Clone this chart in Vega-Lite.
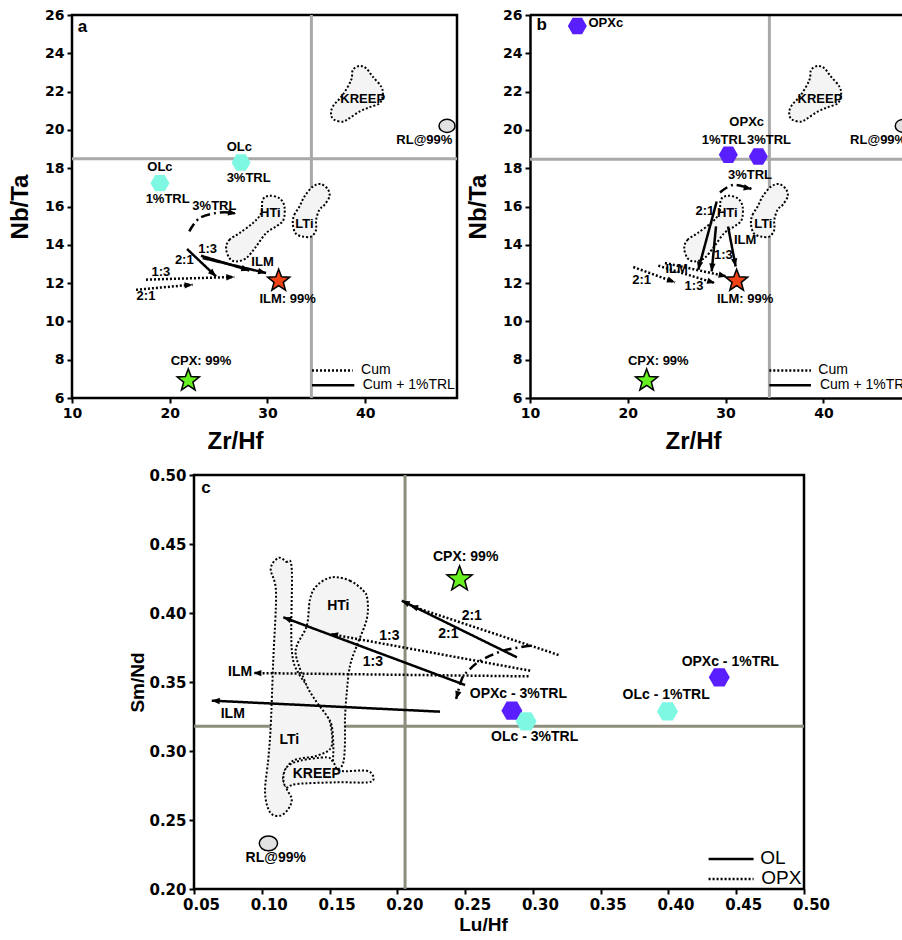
{
"$schema": "https://vega.github.io/schema/vega-lite/v6.json",
"padding": {"left": 7, "top": 6, "right": 0, "bottom": 0},
"background": "white",
"config": {
  "view": {"stroke": "black", "strokeWidth": 2.5},
  "axis": {"domain": false, "grid": false, "ticks": true, "tickColor": "black", "tickWidth": 2, "tickSize": 5, "labelColor": "black", "labelFont": "DejaVu Sans", "labelFontWeight": "bold", "titleColor": "black", "titleFont": "Liberation Sans", "titleFontWeight": "bold", "labelPadding": 3, "labelOverlap": false, "labelFlush": false}
},
"datasets": {
  "polyAB": [
    {"s":"K","i":0,"x":36.52,"y":20.78},{"s":"K","i":1,"x":36.69,"y":21.22},{"s":"K","i":2,"x":37.71,"y":21.83},{"s":"K","i":3,"x":38.57,"y":22.61},{"s":"K","i":4,"x":38.74,"y":23.13},{"s":"K","i":5,"x":39.42,"y":23.34},{"s":"K","i":6,"x":40.10,"y":23.22},{"s":"K","i":7,"x":40.78,"y":22.78},{"s":"K","i":8,"x":41.64,"y":22.26},{"s":"K","i":9,"x":41.81,"y":21.83},{"s":"K","i":10,"x":41.47,"y":21.39},{"s":"K","i":11,"x":40.44,"y":21.18},{"s":"K","i":12,"x":39.42,"y":20.96},{"s":"K","i":13,"x":38.40,"y":20.61},{"s":"K","i":14,"x":37.71,"y":20.43},{"s":"K","i":15,"x":36.86,"y":20.52},
    {"s":"H","i":0,"x":25.77,"y":13.83},{"s":"H","i":1,"x":26.11,"y":14.26},{"s":"H","i":2,"x":27.13,"y":14.61},{"s":"H","i":3,"x":28.50,"y":15.13},{"s":"H","i":4,"x":29.35,"y":15.65},{"s":"H","i":5,"x":29.52,"y":16.35},{"s":"H","i":6,"x":30.20,"y":16.56},{"s":"H","i":7,"x":31.23,"y":16.43},{"s":"H","i":8,"x":31.74,"y":16.00},{"s":"H","i":9,"x":31.64,"y":15.30},{"s":"H","i":10,"x":30.89,"y":14.96},{"s":"H","i":11,"x":29.86,"y":14.61},{"s":"H","i":12,"x":28.84,"y":13.91},{"s":"H","i":13,"x":27.82,"y":13.30},{"s":"H","i":14,"x":26.79,"y":13.13},{"s":"H","i":15,"x":26.11,"y":13.30},
    {"s":"L","i":0,"x":32.59,"y":15.13},{"s":"L","i":1,"x":32.76,"y":15.57},{"s":"L","i":2,"x":33.28,"y":16.0},{"s":"L","i":3,"x":33.79,"y":16.52},{"s":"L","i":4,"x":34.64,"y":17.04},{"s":"L","i":5,"x":35.49,"y":17.17},{"s":"L","i":6,"x":36.18,"y":16.90},{"s":"L","i":7,"x":36.35,"y":16.52},{"s":"L","i":8,"x":35.84,"y":16.09},{"s":"L","i":9,"x":35.32,"y":15.83},{"s":"L","i":10,"x":34.98,"y":15.30},{"s":"L","i":11,"x":34.98,"y":14.78},{"s":"L","i":12,"x":34.47,"y":14.43},{"s":"L","i":13,"x":33.62,"y":14.43},{"s":"L","i":14,"x":32.87,"y":14.61}
  ],
  "polyC": [
    {"s":"L","i":0,"x":0.1122,"y":0.4399},{"s":"L","i":1,"x":0.1179,"y":0.4372},{"s":"L","i":2,"x":0.1221,"y":0.4319},{"s":"L","i":3,"x":0.1221,"y":0.3739},{"s":"L","i":4,"x":0.1282,"y":0.3546},{"s":"L","i":5,"x":0.1406,"y":0.3401},{"s":"L","i":6,"x":0.1491,"y":0.3256},{"s":"L","i":7,"x":0.1516,"y":0.3038},{"s":"L","i":8,"x":0.1406,"y":0.2966},{"s":"L","i":9,"x":0.1233,"y":0.2930},{"s":"L","i":10,"x":0.1159,"y":0.2821},{"s":"L","i":11,"x":0.1184,"y":0.2725},{"s":"L","i":12,"x":0.1221,"y":0.2652},{"s":"L","i":13,"x":0.1196,"y":0.2580},{"s":"L","i":14,"x":0.1135,"y":0.2531},{"s":"L","i":15,"x":0.1061,"y":0.2556},{"s":"L","i":16,"x":0.1024,"y":0.2701},{"s":"L","i":17,"x":0.1048,"y":0.2942},{"s":"L","i":18,"x":0.1066,"y":0.3183},{"s":"L","i":19,"x":0.1085,"y":0.3667},{"s":"L","i":20,"x":0.1105,"y":0.4150},{"s":"L","i":21,"x":0.1066,"y":0.4319},
    {"s":"H","i":0,"x":0.1516,"y":0.4259},{"s":"H","i":1,"x":0.1651,"y":0.4234},{"s":"H","i":2,"x":0.1749,"y":0.4162},{"s":"H","i":3,"x":0.1779,"y":0.4101},{"s":"H","i":4,"x":0.1775,"y":0.3957},{"s":"H","i":5,"x":0.1701,"y":0.3763},{"s":"H","i":6,"x":0.1651,"y":0.3618},{"s":"H","i":7,"x":0.1627,"y":0.3425},{"s":"H","i":8,"x":0.1614,"y":0.3232},{"s":"H","i":9,"x":0.1614,"y":0.3063},{"s":"H","i":10,"x":0.1602,"y":0.2918},{"s":"H","i":11,"x":0.1565,"y":0.2870},{"s":"H","i":12,"x":0.1528,"y":0.2906},{"s":"H","i":13,"x":0.1528,"y":0.3038},{"s":"H","i":14,"x":0.1516,"y":0.3183},{"s":"H","i":15,"x":0.1479,"y":0.3256},{"s":"H","i":16,"x":0.1406,"y":0.3353},{"s":"H","i":17,"x":0.1332,"y":0.3473},{"s":"H","i":18,"x":0.1258,"y":0.3667},{"s":"H","i":19,"x":0.1258,"y":0.3763},{"s":"H","i":20,"x":0.1332,"y":0.3908},{"s":"H","i":21,"x":0.1356,"y":0.4101},{"s":"H","i":22,"x":0.1406,"y":0.4198},
    {"s":"K","i":0,"x":0.1159,"y":0.2797},{"s":"K","i":1,"x":0.1184,"y":0.2882},{"s":"K","i":2,"x":0.1282,"y":0.2930},{"s":"K","i":3,"x":0.1479,"y":0.2954},{"s":"K","i":4,"x":0.1528,"y":0.2918},{"s":"K","i":5,"x":0.1578,"y":0.2857},{"s":"K","i":6,"x":0.1775,"y":0.2857},{"s":"K","i":7,"x":0.1823,"y":0.2809},{"s":"K","i":8,"x":0.1786,"y":0.2773},{"s":"K","i":9,"x":0.1553,"y":0.2773},{"s":"K","i":10,"x":0.1258,"y":0.2761},{"s":"K","i":11,"x":0.1184,"y":0.2737}
  ],
  "arrA": [
    {"id":"a1","st":"dot","i":0,"x":16.55,"y":11.65},{"id":"a1","st":"dot","i":1,"x":22.34,"y":11.92},
    {"id":"a2","st":"dot","i":0,"x":17.57,"y":12.18},{"id":"a2","st":"dot","i":1,"x":26.61,"y":12.32},
    {"id":"a3","st":"solid","i":0,"x":21.77,"y":13.78},{"id":"a3","st":"solid","i":1,"x":24.74,"y":12.35},
    {"id":"a4","st":"solid","i":0,"x":23.2,"y":13.43},{"id":"a4","st":"solid","i":1,"x":28.15,"y":12.66},
    {"id":"a5","st":"solid","i":0,"x":23.37,"y":13.31},{"id":"a5","st":"solid","i":1,"x":29.86,"y":12.53},
    {"id":"a6","st":"dashdot","i":0,"x":22.0,"y":14.70},{"id":"a6","st":"dashdot","i":1,"x":23.03,"y":15.39},{"id":"a6","st":"dashdot","i":2,"x":24.74,"y":15.66},{"id":"a6","st":"dashdot","i":3,"x":26.1,"y":15.69},{"id":"a6","st":"dashdot","i":4,"x":26.79,"y":15.62},
    {"id":"L1","st":"dot","i":0,"x":34.56,"y":7.44},{"id":"L1","st":"dot","i":1,"x":38.72,"y":7.44},
    {"id":"L2","st":"solid","i":0,"x":34.56,"y":6.66},{"id":"L2","st":"solid","i":1,"x":38.89,"y":6.66}
  ],
  "headA": [
    {"x":22.34,"y":11.92,"a":-5},{"x":26.61,"y":12.32,"a":-2},{"x":24.74,"y":12.35,"a":43},{"x":28.15,"y":12.66,"a":17},{"x":29.86,"y":12.53,"a":13},{"x":26.79,"y":15.62,"a":11}
  ],
  "arrB": [
    {"id":"b1","st":"solid","i":0,"x":29.09,"y":16.26},{"id":"b1","st":"solid","i":1,"x":27.21,"y":12.70},
    {"id":"b2","st":"solid","i":0,"x":29.02,"y":14.96},{"id":"b2","st":"solid","i":1,"x":28.58,"y":12.61},
    {"id":"b3","st":"solid","i":0,"x":30.25,"y":14.96},{"id":"b3","st":"solid","i":1,"x":31.03,"y":12.87},
    {"id":"b4","st":"dot","i":0,"x":20.56,"y":12.84},{"id":"b4","st":"dot","i":1,"x":24.83,"y":12.04},
    {"id":"b5","st":"dot","i":0,"x":23.12,"y":12.91},{"id":"b5","st":"dot","i":1,"x":28.92,"y":12.0},
    {"id":"b6","st":"dot","i":0,"x":23.8,"y":13.05},{"id":"b6","st":"dot","i":1,"x":30.11,"y":12.35},
    {"id":"b7","st":"dashdot","i":0,"x":29.43,"y":16.73},{"id":"b7","st":"dashdot","i":1,"x":30.79,"y":17.13},{"id":"b7","st":"dashdot","i":2,"x":32.67,"y":16.91},
    {"id":"L1","st":"dot","i":0,"x":34.47,"y":7.44},{"id":"L1","st":"dot","i":1,"x":38.73,"y":7.44},
    {"id":"L2","st":"solid","i":0,"x":34.47,"y":6.66},{"id":"L2","st":"solid","i":1,"x":38.73,"y":6.66}
  ],
  "headB": [
    {"x":27.21,"y":12.70,"a":103},{"x":28.58,"y":12.61,"a":95},{"x":31.03,"y":12.87,"a":79},{"x":24.83,"y":12.04,"a":20},{"x":28.92,"y":12.0,"a":17},{"x":30.11,"y":12.35,"a":12},{"x":32.67,"y":16.91,"a":13}
  ],
  "arrC": [
    {"id":"c1","st":"solid","i":0,"x":0.2882,"y":0.3679},{"id":"c1","st":"solid","i":1,"x":0.2033,"y":0.4089},
    {"id":"c2","st":"dot","i":0,"x":0.3189,"y":0.3696},{"id":"c2","st":"dot","i":1,"x":0.2094,"y":0.4053},
    {"id":"c3","st":"dot","i":0,"x":0.298,"y":0.3582},{"id":"c3","st":"dot","i":1,"x":0.1504,"y":0.3848},
    {"id":"c4","st":"solid","i":0,"x":0.25,"y":0.3478},{"id":"c4","st":"solid","i":1,"x":0.1159,"y":0.3969},
    {"id":"c5","st":"dot","i":0,"x":0.2968,"y":0.3541},{"id":"c5","st":"dot","i":1,"x":0.0938,"y":0.3565},
    {"id":"c6","st":"solid","i":0,"x":0.2315,"y":0.3285},{"id":"c6","st":"solid","i":1,"x":0.0631,"y":0.3365},
    {"id":"c7","st":"dashdot","i":0,"x":0.298,"y":0.3763},{"id":"c7","st":"dashdot","i":1,"x":0.2783,"y":0.3727},{"id":"c7","st":"dashdot","i":2,"x":0.2611,"y":0.3654},{"id":"c7","st":"dashdot","i":3,"x":0.2524,"y":0.3582},{"id":"c7","st":"dashdot","i":4,"x":0.2476,"y":0.3522},{"id":"c7","st":"dashdot","i":5,"x":0.2434,"y":0.3377},
    {"id":"L1","st":"solid","i":0,"x":0.4296,"y":0.2217},{"id":"L1","st":"solid","i":1,"x":0.4628,"y":0.2217},
    {"id":"L2","st":"dot","i":0,"x":0.4296,"y":0.2072},{"id":"L2","st":"dot","i":1,"x":0.4628,"y":0.2072}
  ],
  "headC": [
    {"x":0.2033,"y":0.4089,"a":-154},{"x":0.2094,"y":0.4053,"a":-162},{"x":0.1504,"y":0.3848,"a":-170},{"x":0.1159,"y":0.3969,"a":-160},{"x":0.0938,"y":0.3565,"a":-179},{"x":0.0631,"y":0.3365,"a":-177},{"x":0.2434,"y":0.3377,"a":106}
  ],
  "ptA": [
    {"k":"OLc","x":19.0,"y":17.22},{"k":"OLc","x":27.3,"y":18.3},{"k":"ILM","x":31.15,"y":12.12},{"k":"CPX","x":21.9,"y":6.91},{"k":"RL","x":48.38,"y":20.21}
  ],
  "ptB": [
    {"k":"OPXc","x":14.84,"y":25.43},{"k":"OPXc","x":30.28,"y":18.70},{"k":"OPXc","x":33.35,"y":18.61},{"k":"ILM","x":31.13,"y":12.12},{"k":"CPX","x":21.93,"y":6.91},{"k":"RL","x":48.17,"y":20.21}
  ],
  "ptC": [
    {"k":"CPX","x":0.2459,"y":0.4246},{"k":"OPXc","x":0.2845,"y":0.3292},{"k":"OLc","x":0.295,"y":0.3215},{"k":"OPXc","x":0.4375,"y":0.3534},{"k":"OLc","x":0.3993,"y":0.3287},{"k":"RL","x":0.1049,"y":0.2331}
  ],
  "txtA": [
    {"g":"c","t":"OLc","x":19.0,"y":18.06},{"g":"c","t":"1%TRL","x":19.79,"y":16.39},{"g":"c","t":"OLc","x":27.12,"y":19.13},{"g":"c","t":"3%TRL","x":28.08,"y":17.48},{"g":"c","t":"3%TRL","x":24.57,"y":16.04},{"g":"c","t":"HTi","x":30.3,"y":15.66},{"g":"c","t":"LTi","x":33.78,"y":15.1},{"g":"c","t":"KREEP","x":39.75,"y":21.62},{"g":"c","t":"RL@99%","x":46.06,"y":19.48},{"g":"c","t":"2:1","x":17.57,"y":11.31},{"g":"c","t":"1:3","x":19.1,"y":12.56},{"g":"c","t":"2:1","x":21.49,"y":13.22},{"g":"c","t":"1:3","x":23.88,"y":13.78},{"g":"c","t":"ILM","x":29.5,"y":13.08},{"g":"c","t":"ILM: 99%","x":32.07,"y":11.19},{"g":"c","t":"CPX: 99%","x":23.2,"y":7.91},
    {"g":"p","t":"a","x":11.08,"y":25.39},
    {"g":"lg","t":"Cum","x":39.58,"y":7.44},{"g":"lg","t":"Cum + 1%TRL","x":39.75,"y":6.66}
  ],
  "txtB": [
    {"g":"c","t":"OPXc","x":17.75,"y":25.57},{"g":"c","t":"OPXc","x":32.16,"y":20.43},{"g":"c","t":"1%TRL","x":29.82,"y":19.48},{"g":"c","t":"3%TRL","x":34.44,"y":19.48},{"g":"c","t":"3%TRL","x":32.5,"y":17.65},{"g":"c","t":"HTi","x":30.18,"y":15.66},{"g":"c","t":"LTi","x":33.86,"y":15.1},{"g":"c","t":"KREEP","x":39.65,"y":21.62},{"g":"c","t":"RL@99%","x":45.6,"y":19.48},{"g":"c","t":"2:1","x":27.89,"y":15.74},{"g":"c","t":"1:3","x":29.77,"y":13.48},{"g":"c","t":"ILM","x":32.0,"y":14.26},{"g":"c","t":"ILM","x":25.0,"y":12.73},{"g":"c","t":"2:1","x":21.42,"y":12.18},{"g":"c","t":"1:3","x":26.77,"y":11.83},{"g":"c","t":"ILM: 99%","x":32.0,"y":11.19},{"g":"c","t":"CPX: 99%","x":23.12,"y":7.91},
    {"g":"p","t":"b","x":11.2,"y":25.48},
    {"g":"lg","t":"Cum","x":39.48,"y":7.44},{"g":"lg","t":"Cum + 1%TRL","x":39.65,"y":6.66}
  ],
  "txtC": [
    {"g":"p","t":"c","x":0.0589,"y":0.4903},
    {"g":"c","t":"CPX: 99%","x":0.2504,"y":0.4408},{"g":"c","t":"HTi","x":0.1565,"y":0.4053},{"g":"c","t":"LTi","x":0.1203,"y":0.308},{"g":"c","t":"KREEP","x":0.1406,"y":0.2833},{"g":"c","t":"RL@99%","x":0.1103,"y":0.2225},{"g":"c","t":"2:1","x":0.2549,"y":0.398},{"g":"c","t":"2:1","x":0.2377,"y":0.3848},{"g":"c","t":"1:3","x":0.1941,"y":0.3831},{"g":"c","t":"1:3","x":0.1819,"y":0.3643},{"g":"c","t":"ILM","x":0.084,"y":0.357},{"g":"c","t":"ILM","x":0.0786,"y":0.3268},{"g":"c","t":"OPXc - 1%TRL","x":0.4456,"y":0.3647},{"g":"c","t":"OLc - 1%TRL","x":0.3983,"y":0.3406},{"g":"c","t":"OPXc - 3%TRL","x":0.2893,"y":0.3413},{"g":"c","t":"OLc - 3%TRL","x":0.3013,"y":0.3104},
    {"g":"lg","t":"OL","x":0.4677,"y":0.2222},{"g":"lg","t":"OPX","x":0.4685,"y":0.2077}
  ]
},
"bounds": "full",
"spacing": 11,
"vconcat": [
  {
    "bounds": "flush",
    "spacing": 73,
    "hconcat": [
      {
        "width": 385, "height": 383,
        "encoding": {
          "x": {"field": "x", "type": "quantitative", "scale": {"domain": [10, 49.4], "nice": false, "zero": false}, "axis": {"values": [10, 20, 30, 40], "title": "Zr/Hf", "titleFontSize": 24, "titleX": 163, "titlePadding": 9, "labelFontSize": 14}},
          "y": {"field": "y", "type": "quantitative", "scale": {"domain": [6, 26], "nice": false, "zero": false}, "axis": {"values": [6, 8, 10, 12, 14, 16, 18, 20, 22, 24, 26], "title": "Nb/Ta", "titleFontSize": 24, "titlePadding": 12, "labelFontSize": 14}}
        },
        "layer": [
          {"data": {"values": [{"x": 34.5, "y": 6, "y2": 26}]}, "mark": {"type": "rule", "color": "#a9a9a9", "strokeWidth": 3}, "encoding": {"y2": {"field": "y2"}}},
          {"data": {"values": [{"x": 10, "x2": 49.4, "y": 18.5}]}, "mark": {"type": "rule", "color": "#a9a9a9", "strokeWidth": 3}, "encoding": {"x2": {"field": "x2"}}},
          {"data": {"name": "polyAB"}, "mark": {"type": "line", "interpolate": "cardinal-closed", "fill": "#f4f4f4", "stroke": "black", "strokeWidth": 2, "strokeDash": [2, 2]}, "encoding": {"detail": {"field": "s"}, "order": {"field": "i", "type": "quantitative"}}},
          {"data": {"name": "arrA"}, "mark": {"type": "line", "color": "black", "strokeWidth": 2.5, "interpolate": "cardinal"}, "encoding": {"detail": {"field": "id"}, "order": {"field": "i", "type": "quantitative"}, "strokeDash": {"field": "st", "type": "nominal", "scale": {"domain": ["dot", "solid", "dashdot"], "range": [[2, 2], [1, 0], [9, 4, 2, 4]]}, "legend": null}}},
          {"data": {"name": "headA"}, "mark": {"type": "point", "filled": true, "color": "black", "opacity": 1, "size": 64, "shape": "M0,0L-2,-0.8L-2,0.8Z"}, "encoding": {"angle": {"field": "a", "type": "quantitative", "scale": null}}},
          {"data": {"name": "ptA"}, "transform": [{"filter": "datum.k=='OLc'||datum.k=='OPXc'"}], "mark": {"type": "point", "filled": true, "opacity": 1, "size": 361, "strokeWidth": 0},
           "encoding": {"shape": {"field": "k", "type": "nominal", "scale": {"domain": ["OLc", "OPXc", "ILM", "CPX", "RL"], "range": ["M-1,0L-0.5,-0.866L0.5,-0.866L1,0L0.5,0.866L-0.5,0.866Z", "M-1,0L-0.5,-0.866L0.5,-0.866L1,0L0.5,0.866L-0.5,0.866Z", "M0,-1L0.247,-0.34L0.951,-0.309L0.399,0.13L0.588,0.809L0,0.42L-0.588,0.809L-0.399,0.13L-0.951,-0.309L-0.247,-0.34Z", "M0,-1L0.247,-0.34L0.951,-0.309L0.399,0.13L0.588,0.809L0,0.42L-0.588,0.809L-0.399,0.13L-0.951,-0.309L-0.247,-0.34Z", "M-0.69,0A0.69,0.56 0 1,1 0.69,0A0.69,0.56 0 1,1 -0.69,0Z"]}, "legend": null},
                        "color": {"field": "k", "type": "nominal", "scale": {"domain": ["OLc", "OPXc", "ILM", "CPX", "RL"], "range": ["#7ef8e3", "#5a1fff", "#ee4316", "#66f020", "#e2e2e2"]}, "legend": null}}},
          {"data": {"name": "ptA"}, "transform": [{"filter": "datum.k!='OLc'&&datum.k!='OPXc'"}], "mark": {"type": "point", "filled": true, "opacity": 1, "size": 540, "stroke": "black", "strokeWidth": 1.5},
           "encoding": {"shape": {"field": "k", "type": "nominal", "scale": {"domain": ["OLc", "OPXc", "ILM", "CPX", "RL"], "range": ["M-1,0L-0.5,-0.866L0.5,-0.866L1,0L0.5,0.866L-0.5,0.866Z", "M-1,0L-0.5,-0.866L0.5,-0.866L1,0L0.5,0.866L-0.5,0.866Z", "M0,-1L0.247,-0.34L0.951,-0.309L0.399,0.13L0.588,0.809L0,0.42L-0.588,0.809L-0.399,0.13L-0.951,-0.309L-0.247,-0.34Z", "M0,-1L0.247,-0.34L0.951,-0.309L0.399,0.13L0.588,0.809L0,0.42L-0.588,0.809L-0.399,0.13L-0.951,-0.309L-0.247,-0.34Z", "M-0.69,0A0.69,0.56 0 1,1 0.69,0A0.69,0.56 0 1,1 -0.69,0Z"]}, "legend": null},
                        "color": {"field": "k", "type": "nominal", "scale": {"domain": ["OLc", "OPXc", "ILM", "CPX", "RL"], "range": ["#7ef8e3", "#5a1fff", "#ee4316", "#66f020", "#e2e2e2"]}, "legend": null}}},
          {"data": {"name": "txtA"}, "transform": [{"filter": "datum.g=='c'"}], "mark": {"type": "text", "font": "Liberation Sans", "fontWeight": "bold", "fontSize": 13, "baseline": "middle", "color": "black"}, "encoding": {"text": {"field": "t"}}},
          {"data": {"name": "txtA"}, "transform": [{"filter": "datum.g=='p'"}], "mark": {"type": "text", "font": "Liberation Sans", "fontWeight": "bold", "fontSize": 17, "baseline": "middle", "color": "black"}, "encoding": {"text": {"field": "t"}}},
          {"data": {"name": "txtA"}, "transform": [{"filter": "datum.g=='lg'"}], "mark": {"type": "text", "font": "Liberation Sans", "fontSize": 14, "align": "left", "baseline": "middle", "color": "black"}, "encoding": {"text": {"field": "t"}}}
        ]
      },
      {
        "width": 372, "height": 383,
        "view": {"stroke": null},
        "encoding": {
          "x": {"field": "x", "type": "quantitative", "scale": {"domain": [10, 48.04], "nice": false, "zero": false}, "axis": {"values": [10, 20, 30, 40], "title": "Zr/Hf", "titleFontSize": 24, "titleX": 163, "titlePadding": 9, "labelFontSize": 14, "domain": true, "domainColor": "black", "domainWidth": 2.5}},
          "y": {"field": "y", "type": "quantitative", "scale": {"domain": [6, 26], "nice": false, "zero": false}, "axis": {"values": [6, 8, 10, 12, 14, 16, 18, 20, 22, 24, 26], "title": "Nb/Ta", "titleFontSize": 24, "titlePadding": 12, "labelFontSize": 14, "domain": true, "domainColor": "black", "domainWidth": 2.5}}
        },
        "layer": [
          {"data": {"values": [{"x": 34.48, "y": 6, "y2": 26}]}, "mark": {"type": "rule", "color": "#a9a9a9", "strokeWidth": 3}, "encoding": {"y2": {"field": "y2"}}},
          {"data": {"values": [{"x": 10, "x2": 48.04, "y": 18.47}]}, "mark": {"type": "rule", "color": "#a9a9a9", "strokeWidth": 3}, "encoding": {"x2": {"field": "x2"}}},
          {"data": {"values": [{"x": 10, "x2": 48.04, "y": 26}]}, "mark": {"type": "rule", "color": "black", "strokeWidth": 2.5}, "encoding": {"x2": {"field": "x2"}}},
          {"data": {"name": "polyAB"}, "mark": {"type": "line", "interpolate": "cardinal-closed", "fill": "#f4f4f4", "stroke": "black", "strokeWidth": 2, "strokeDash": [2, 2]}, "encoding": {"detail": {"field": "s"}, "order": {"field": "i", "type": "quantitative"}}},
          {"data": {"name": "arrB"}, "mark": {"type": "line", "color": "black", "strokeWidth": 2.5, "interpolate": "cardinal"}, "encoding": {"detail": {"field": "id"}, "order": {"field": "i", "type": "quantitative"}, "strokeDash": {"field": "st", "type": "nominal", "scale": {"domain": ["dot", "solid", "dashdot"], "range": [[2, 2], [1, 0], [9, 4, 2, 4]]}, "legend": null}}},
          {"data": {"name": "headB"}, "mark": {"type": "point", "filled": true, "color": "black", "opacity": 1, "size": 64, "shape": "M0,0L-2,-0.8L-2,0.8Z"}, "encoding": {"angle": {"field": "a", "type": "quantitative", "scale": null}}},
          {"data": {"name": "ptB"}, "transform": [{"filter": "datum.k=='OLc'||datum.k=='OPXc'"}], "mark": {"type": "point", "filled": true, "opacity": 1, "size": 361, "strokeWidth": 0, "clip": true},
           "encoding": {"shape": {"field": "k", "type": "nominal", "scale": {"domain": ["OLc", "OPXc", "ILM", "CPX", "RL"], "range": ["M-1,0L-0.5,-0.866L0.5,-0.866L1,0L0.5,0.866L-0.5,0.866Z", "M-1,0L-0.5,-0.866L0.5,-0.866L1,0L0.5,0.866L-0.5,0.866Z", "M0,-1L0.247,-0.34L0.951,-0.309L0.399,0.13L0.588,0.809L0,0.42L-0.588,0.809L-0.399,0.13L-0.951,-0.309L-0.247,-0.34Z", "M0,-1L0.247,-0.34L0.951,-0.309L0.399,0.13L0.588,0.809L0,0.42L-0.588,0.809L-0.399,0.13L-0.951,-0.309L-0.247,-0.34Z", "M-0.69,0A0.69,0.56 0 1,1 0.69,0A0.69,0.56 0 1,1 -0.69,0Z"]}, "legend": null},
                        "color": {"field": "k", "type": "nominal", "scale": {"domain": ["OLc", "OPXc", "ILM", "CPX", "RL"], "range": ["#7ef8e3", "#5a1fff", "#ee4316", "#66f020", "#e2e2e2"]}, "legend": null}}},
          {"data": {"name": "ptB"}, "transform": [{"filter": "datum.k!='OLc'&&datum.k!='OPXc'"}], "mark": {"type": "point", "filled": true, "opacity": 1, "size": 540, "stroke": "black", "strokeWidth": 1.5, "clip": true},
           "encoding": {"shape": {"field": "k", "type": "nominal", "scale": {"domain": ["OLc", "OPXc", "ILM", "CPX", "RL"], "range": ["M-1,0L-0.5,-0.866L0.5,-0.866L1,0L0.5,0.866L-0.5,0.866Z", "M-1,0L-0.5,-0.866L0.5,-0.866L1,0L0.5,0.866L-0.5,0.866Z", "M0,-1L0.247,-0.34L0.951,-0.309L0.399,0.13L0.588,0.809L0,0.42L-0.588,0.809L-0.399,0.13L-0.951,-0.309L-0.247,-0.34Z", "M0,-1L0.247,-0.34L0.951,-0.309L0.399,0.13L0.588,0.809L0,0.42L-0.588,0.809L-0.399,0.13L-0.951,-0.309L-0.247,-0.34Z", "M-0.69,0A0.69,0.56 0 1,1 0.69,0A0.69,0.56 0 1,1 -0.69,0Z"]}, "legend": null},
                        "color": {"field": "k", "type": "nominal", "scale": {"domain": ["OLc", "OPXc", "ILM", "CPX", "RL"], "range": ["#7ef8e3", "#5a1fff", "#ee4316", "#66f020", "#e2e2e2"]}, "legend": null}}},
          {"data": {"name": "txtB"}, "transform": [{"filter": "datum.g=='c'"}], "mark": {"type": "text", "font": "Liberation Sans", "fontWeight": "bold", "fontSize": 13, "baseline": "middle", "color": "black", "clip": true}, "encoding": {"text": {"field": "t"}}},
          {"data": {"name": "txtB"}, "transform": [{"filter": "datum.g=='p'"}], "mark": {"type": "text", "font": "Liberation Sans", "fontWeight": "bold", "fontSize": 17, "baseline": "middle", "color": "black"}, "encoding": {"text": {"field": "t"}}},
          {"data": {"name": "txtB"}, "transform": [{"filter": "datum.g=='lg'"}], "mark": {"type": "text", "font": "Liberation Sans", "fontSize": 14, "align": "left", "baseline": "middle", "color": "black", "clip": true}, "encoding": {"text": {"field": "t"}}}
        ]
      }
    ]
  },
  {
    "bounds": "flush",
    "spacing": 10,
    "hconcat": [
      {"width": 112, "height": 414, "view": {"stroke": null}, "data": {"values": []}, "mark": "point"},
      {
        "width": 610, "height": 414,
        "encoding": {
          "x": {"field": "x", "type": "quantitative", "scale": {"domain": [0.05, 0.5], "nice": false, "zero": false}, "axis": {"values": [0.05, 0.1, 0.15, 0.2, 0.25, 0.3, 0.35, 0.4, 0.45, 0.5], "format": ".2f", "title": "Lu/Hf", "titleFontSize": 19, "titleX": 289, "titlePadding": 3, "labelFontSize": 15, "labelOffset": 7}},
          "y": {"field": "y", "type": "quantitative", "scale": {"domain": [0.2, 0.5], "nice": false, "zero": false}, "axis": {"values": [0.2, 0.25, 0.3, 0.35, 0.4, 0.45, 0.5], "format": ".2f", "title": "Sm/Nd", "titleFontSize": 19, "titlePadding": 1, "labelFontSize": 15}}
        },
        "layer": [
          {"data": {"values": [{"x": 0.2057, "y": 0.2, "y2": 0.5}]}, "mark": {"type": "rule", "color": "#8d8d7b", "strokeWidth": 3}, "encoding": {"y2": {"field": "y2"}}},
          {"data": {"values": [{"x": 0.05, "x2": 0.5, "y": 0.318}]}, "mark": {"type": "rule", "color": "#8d8d7b", "strokeWidth": 3}, "encoding": {"x2": {"field": "x2"}}},
          {"data": {"name": "polyC"}, "mark": {"type": "line", "interpolate": "cardinal-closed", "fill": "#f4f4f4", "stroke": "black", "strokeWidth": 2, "strokeDash": [2, 2]}, "encoding": {"detail": {"field": "s"}, "order": {"field": "i", "type": "quantitative"}}},
          {"data": {"name": "arrC"}, "mark": {"type": "line", "color": "black", "strokeWidth": 2.5, "interpolate": "cardinal"}, "encoding": {"detail": {"field": "id"}, "order": {"field": "i", "type": "quantitative"}, "strokeDash": {"field": "st", "type": "nominal", "scale": {"domain": ["dot", "solid", "dashdot"], "range": [[2, 2], [1, 0], [9, 4, 2, 4]]}, "legend": null}}},
          {"data": {"name": "headC"}, "mark": {"type": "point", "filled": true, "color": "black", "opacity": 1, "size": 64, "shape": "M0,0L-2,-0.8L-2,0.8Z"}, "encoding": {"angle": {"field": "a", "type": "quantitative", "scale": null}}},
          {"data": {"name": "ptC"}, "transform": [{"filter": "datum.k=='OLc'||datum.k=='OPXc'"}], "mark": {"type": "point", "filled": true, "opacity": 1, "size": 441, "strokeWidth": 0},
           "encoding": {"shape": {"field": "k", "type": "nominal", "scale": {"domain": ["OLc", "OPXc", "ILM", "CPX", "RL"], "range": ["M-1,0L-0.5,-0.866L0.5,-0.866L1,0L0.5,0.866L-0.5,0.866Z", "M-1,0L-0.5,-0.866L0.5,-0.866L1,0L0.5,0.866L-0.5,0.866Z", "M0,-1L0.247,-0.34L0.951,-0.309L0.399,0.13L0.588,0.809L0,0.42L-0.588,0.809L-0.399,0.13L-0.951,-0.309L-0.247,-0.34Z", "M0,-1L0.247,-0.34L0.951,-0.309L0.399,0.13L0.588,0.809L0,0.42L-0.588,0.809L-0.399,0.13L-0.951,-0.309L-0.247,-0.34Z", "M-0.69,0A0.69,0.56 0 1,1 0.69,0A0.69,0.56 0 1,1 -0.69,0Z"]}, "legend": null},
                        "color": {"field": "k", "type": "nominal", "scale": {"domain": ["OLc", "OPXc", "ILM", "CPX", "RL"], "range": ["#7ef8e3", "#5a1fff", "#ee4316", "#66f020", "#e2e2e2"]}, "legend": null}}},
          {"data": {"name": "ptC"}, "transform": [{"filter": "datum.k!='OLc'&&datum.k!='OPXc'"}], "mark": {"type": "point", "filled": true, "opacity": 1, "size": 700, "stroke": "black", "strokeWidth": 1.5},
           "encoding": {"shape": {"field": "k", "type": "nominal", "scale": {"domain": ["OLc", "OPXc", "ILM", "CPX", "RL"], "range": ["M-1,0L-0.5,-0.866L0.5,-0.866L1,0L0.5,0.866L-0.5,0.866Z", "M-1,0L-0.5,-0.866L0.5,-0.866L1,0L0.5,0.866L-0.5,0.866Z", "M0,-1L0.247,-0.34L0.951,-0.309L0.399,0.13L0.588,0.809L0,0.42L-0.588,0.809L-0.399,0.13L-0.951,-0.309L-0.247,-0.34Z", "M0,-1L0.247,-0.34L0.951,-0.309L0.399,0.13L0.588,0.809L0,0.42L-0.588,0.809L-0.399,0.13L-0.951,-0.309L-0.247,-0.34Z", "M-0.69,0A0.69,0.56 0 1,1 0.69,0A0.69,0.56 0 1,1 -0.69,0Z"]}, "legend": null},
                        "color": {"field": "k", "type": "nominal", "scale": {"domain": ["OLc", "OPXc", "ILM", "CPX", "RL"], "range": ["#7ef8e3", "#5a1fff", "#ee4316", "#66f020", "#e2e2e2"]}, "legend": null}}},
          {"data": {"name": "txtC"}, "transform": [{"filter": "datum.g=='c'"}], "mark": {"type": "text", "font": "Liberation Sans", "fontWeight": "bold", "fontSize": 14, "baseline": "middle", "color": "black"}, "encoding": {"text": {"field": "t"}}},
          {"data": {"name": "txtC"}, "transform": [{"filter": "datum.g=='p'"}], "mark": {"type": "text", "font": "Liberation Sans", "fontWeight": "bold", "fontSize": 17, "baseline": "middle", "color": "black"}, "encoding": {"text": {"field": "t"}}},
          {"data": {"name": "txtC"}, "transform": [{"filter": "datum.g=='lg'"}], "mark": {"type": "text", "font": "Liberation Sans", "fontSize": 19, "align": "left", "baseline": "middle", "color": "black"}, "encoding": {"text": {"field": "t"}}}
        ]
      }
    ]
  }
]
}
